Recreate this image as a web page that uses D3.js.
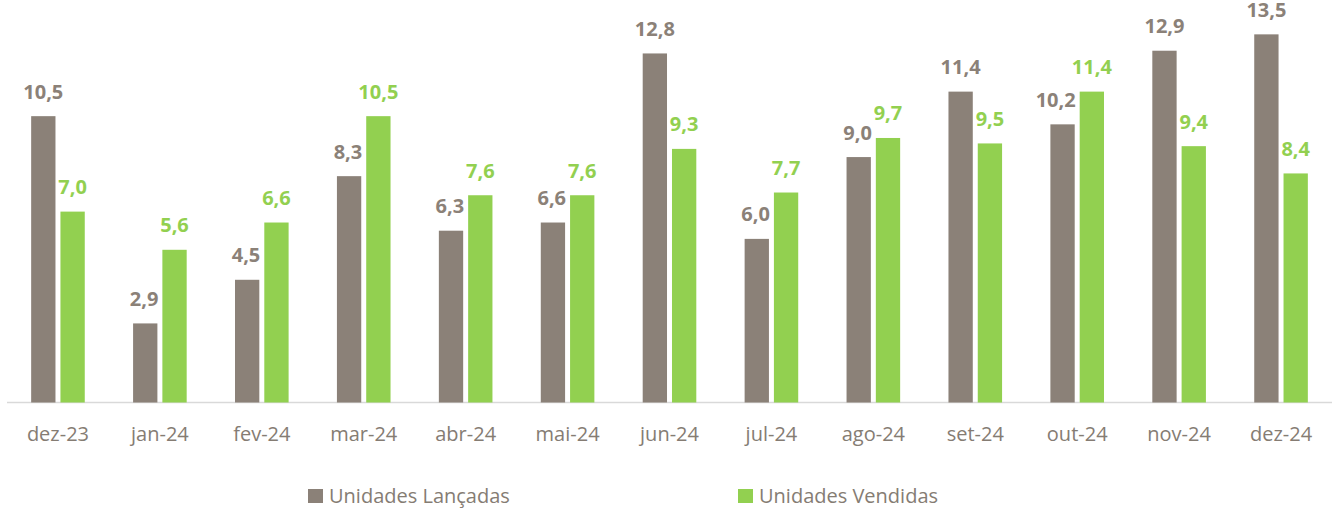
<!DOCTYPE html>
<html><head><meta charset="utf-8">
<script src="https://cdn.jsdelivr.net/npm/d3@7"></script>
<style>body{margin:0;background:#fff}svg{display:block}</style>
</head><body>
<svg id="c" width="1332" height="508"></svg>
<script>
const categories = ["dez-23","jan-24","fev-24","mar-24","abr-24","mai-24","jun-24","jul-24","ago-24","set-24","out-24","nov-24","dez-24"];
const lancadas = [10.5,2.9,4.5,8.3,6.3,6.6,12.8,6.0,9.0,11.4,10.2,12.9,13.5];
const vendidas = [7.0,5.6,6.6,10.5,7.6,7.6,9.3,7.7,9.7,9.5,11.4,9.4,8.4];
const seriesNames = ["Unidades Lançadas","Unidades Vendidas"];
const colors = ["#8b8178","#92d050"];
const font = "'Open Sans', sans-serif";

const svg = d3.select("#c");
const base = 402.5;
const gap = 17.5;
const x = d3.scaleBand().domain(categories).range([7,1332]).padding(0);
const inner = d3.scaleBand().domain([0,1]).range([x.bandwidth()/2-26.8, x.bandwidth()/2+26.8]).paddingInner(0.17);
const y = d3.scaleLinear().domain([0,14]).range([base, base-14*27.27]);

svg.append("line").attr("x1",7).attr("x2",1332).attr("y1",base).attr("y2",base)
  .attr("stroke","#d9d9d9").attr("stroke-width",1.5);

const data = [lancadas, vendidas];
data.forEach((vals,si)=>{
  svg.append("g").selectAll("rect").data(vals).join("rect")
    .attr("x",(d,i)=>x(categories[i])+inner(si))
    .attr("width",inner.bandwidth())
    .attr("y",d=>y(d))
    .attr("height",d=>base-y(d))
    .attr("fill",colors[si]);
});
data.forEach((vals,si)=>{
  const g = svg.append("g");
  g.selectAll("text").data(vals).join("text")
    .attr("x",(d,i)=>x(categories[i])+inner(si)+inner.bandwidth()/2)
    .attr("y",d=>y(d)-gap)
    .attr("text-anchor","middle")
    .attr("font-family",font).attr("font-weight","bold").attr("font-size",20)
    .attr("fill",colors[si])
    .text(d=>d3.format(".1f")(d).replace(".",","))
    .each(function(d,i){
      if (si===0 && data[1][i] > d) {
        const w = this.getComputedTextLength();
        const cx = +this.getAttribute("x");
        const otherLeft = x(categories[i])+inner(1);
        const labelBottom = y(d)-gap;
        if (y(data[1][i]) < labelBottom && cx + w/2 > otherLeft - 4) {
          this.setAttribute("x", otherLeft - 4 - w/2);
        }
      }
    });
});

const ax = svg.append("g").attr("transform",`translate(0,${base})`)
  .call(d3.axisBottom(x).tickSize(0).tickPadding(0));
ax.select(".domain").remove();
ax.selectAll("text").attr("y",38.5).attr("dy",0)
  .attr("font-family",font).attr("font-size",20).attr("fill","#857c73");

const legX = [308,738];
seriesNames.forEach((n,i)=>{
  svg.append("rect").attr("x",legX[i]).attr("y",489).attr("width",15).attr("height",14).attr("fill",colors[i]);
  svg.append("text").attr("x",legX[i]+21).attr("y",503)
    .attr("font-family",font).attr("font-size",20).attr("fill","#857c73").text(n);
});
</script>
</body></html>
